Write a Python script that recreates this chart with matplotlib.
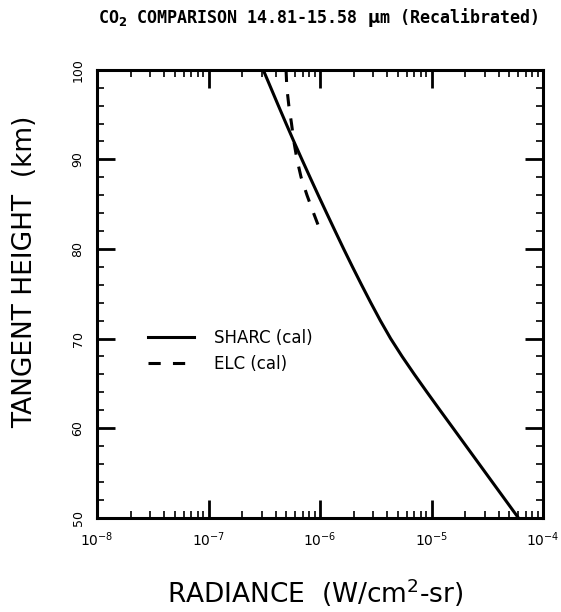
import numpy as np
import matplotlib.pyplot as plt
from matplotlib.ticker import MultipleLocator, LogLocator

# SHARC (cal) radiance vs tangent height
sharc_height = [100, 98, 96, 94, 92, 90, 88, 86, 84, 82, 80, 78, 76,
                74, 72, 70, 68, 66, 64, 62, 60, 58, 56, 54, 52, 50]
sharc_rad = [3.090e-7, 3.614e-7, 4.227e-7, 4.955e-7, 5.821e-7, 6.871e-7,
             8.128e-7, 9.638e-7, 1.146e-6, 1.365e-6, 1.629e-6, 1.954e-6,
             2.355e-6, 2.851e-6, 3.475e-6, 4.295e-6, 5.445e-6, 7.015e-6,
             9.120e-6, 1.191e-5, 1.560e-5, 2.042e-5, 2.673e-5, 3.499e-5,
             4.581e-5, 5.998e-5]

# ELC (cal) radiance vs tangent height
elc_height = [100, 98, 96, 94, 92, 90, 88, 86, 84, 82]
elc_rad = [4.955e-7, 5.035e-7, 5.248e-7, 5.546e-7, 5.821e-7, 6.209e-7,
           6.761e-7, 7.638e-7, 8.750e-7, 1.007e-6]

fig = plt.figure(figsize=(5.61, 6.12), dpi=100)
ax = fig.add_axes([0.173, 0.154, 0.795, 0.732])

ax.plot(sharc_rad, sharc_height, color='black', lw=2.2, label='SHARC (cal)')
ax.plot(elc_rad, elc_height, color='black', lw=2.2, dashes=(4, 4), label='ELC (cal)')

ax.set_xscale('log')
ax.set_xlim(1e-8, 1e-4)
ax.set_ylim(50, 100)
ax.yaxis.set_major_locator(MultipleLocator(10))
ax.yaxis.set_minor_locator(MultipleLocator(2))
ax.xaxis.set_major_locator(LogLocator(base=10, numticks=10))
ax.xaxis.set_minor_locator(LogLocator(base=10, subs=np.arange(2, 10), numticks=20))

for s in ax.spines.values():
    s.set_linewidth(2.2)
ax.tick_params(which='both', direction='in', top=True, right=True, width=1.2)
ax.tick_params(which='major', length=13, width=2)
ax.tick_params(which='minor', length=5)
ax.tick_params(axis='x', labelsize=10, pad=9)
ax.tick_params(axis='y', labelsize=9, pad=9)
for lab in ax.get_yticklabels():
    lab.set_rotation(90)
    lab.set_va('center')

ax.set_xlabel(r'RADIANCE  (W/cm$^2$-sr)', fontsize=19, va='center')
ax.set_ylabel('TANGENT HEIGHT  (km)', fontsize=19, va='center')
ax.xaxis.set_label_coords(0.49, -0.167)
ax.yaxis.set_label_coords(-0.161, 0.549)

fig.text(0.567, 0.972, r'CO$_\mathbf{2}$ COMPARISON 14.81-15.58 $\mathbf{\mu}$m (Recalibrated)',
         ha='center', va='center', fontsize=12, fontweight='bold', family='DejaVu Sans Mono')

ax.legend(loc='upper left', bbox_to_anchor=(0.08, 0.455), frameon=False,
          fontsize=12, handlelength=2.8, handletextpad=1.2, labelspacing=0.5)

fig.savefig('out.png', dpi=100)
